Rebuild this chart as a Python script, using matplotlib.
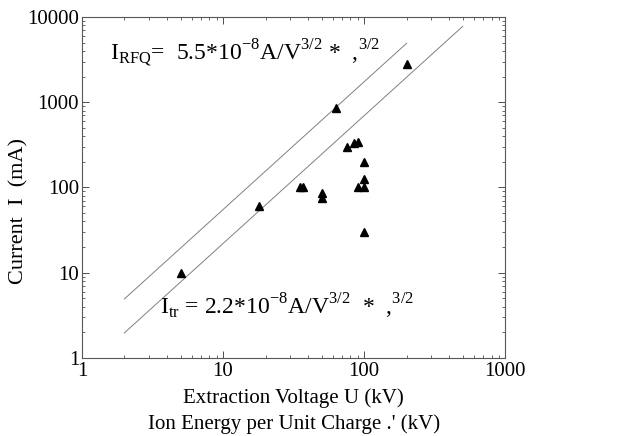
import numpy as np
import matplotlib
matplotlib.use("Agg")
import matplotlib.pyplot as plt
from matplotlib.ticker import LogLocator, FixedLocator, FixedFormatter, NullFormatter

plt.rcParams['font.family'] = ['Liberation Serif', 'DejaVu Serif']
plt.rcParams['mathtext.fontset'] = 'custom'
plt.rcParams['mathtext.rm'] = 'Liberation Serif'

# measured points: extraction voltage (kV) vs current (mA)
volt_kv = [5, 18, 35, 37, 50, 50, 63, 75, 85, 90, 90, 100, 100, 100, 100, 200]
curr_ma = [10, 60, 100, 100, 85, 75, 850, 300, 330, 340, 100, 100, 125, 200, 30, 2800]

# limit lines: I = k * U^(3/2)
k_rfq = 5.5e-8
k_tr = 2.2e-8
rfq_range = [2, 200]
tr_range = [2, 500]

x_ticks = [1, 10, 100, 1000]
y_ticks = [1, 10, 100, 1000, 10000]

fig = plt.figure(figsize=(6.3, 4.36), dpi=100)
ax = fig.add_axes([0.130, 0.179, 0.672, 0.782])

u = np.geomspace(rfq_range[0], rfq_range[1], 100)
ax.plot(u, k_rfq * (u * 1e3) ** 1.5 * 1e3, color='0.5', lw=0.7)
u = np.geomspace(tr_range[0], tr_range[1], 100)
ax.plot(u, k_tr * (u * 1e3) ** 1.5 * 1e3, color='0.5', lw=0.7)

ax.plot(volt_kv, curr_ma, ls='none', marker='^', color='black', markersize=6)

ax.set_xscale('log')
ax.set_yscale('log')
ax.set_xlim(1, 1000)
ax.set_ylim(1, 10000)
ax.xaxis.set_major_locator(FixedLocator(x_ticks))
ax.xaxis.set_major_formatter(FixedFormatter([str(t) for t in x_ticks]))
ax.yaxis.set_major_locator(FixedLocator(y_ticks))
ax.yaxis.set_major_formatter(FixedFormatter([str(t) for t in y_ticks]))
ax.xaxis.set_minor_locator(LogLocator(base=10, subs=np.arange(2, 10)))
ax.yaxis.set_minor_locator(LogLocator(base=10, subs=np.arange(2, 10)))
ax.xaxis.set_minor_formatter(NullFormatter())
ax.yaxis.set_minor_formatter(NullFormatter())
ax.tick_params(which='both', direction='in', top=True, right=True,
               labelsize=15, color='0.3')
ax.tick_params(axis='y', pad=2)
ax.tick_params(axis='x', pad=3)
ax.tick_params(which='major', length=5, width=0.7)
ax.tick_params(which='minor', length=2.5, width=0.6)
for s in ax.spines.values():
    s.set_color('0.35')
    s.set_linewidth(0.8)
    s.set_linestyle((0, (2, 0.6)))

ax.set_ylabel('Current  I  (mA)', fontsize=16)
ax.yaxis.set_label_coords(-0.125, 0.43)
ax.set_xlabel("Extraction Voltage U (kV)\nIon Energy per Unit Charge .' (kV)",
              fontsize=15, labelpad=5, linespacing=1.45)

ax.text(0.066, 0.875, r'I$_{\mathrm{RFQ}}$=  5.5*10$^{-8}$A/V$^{3/2}$ *  ,$^{3/2}$',
        transform=ax.transAxes, fontsize=17, va='baseline')
ax.text(0.184, 0.128, r'I$_{\mathrm{tr}}$ = 2.2*10$^{-8}$A/V$^{3/2}$  *  ,$^{3/2}$',
        transform=ax.transAxes, fontsize=17, va='baseline')

fig.savefig('out.png', dpi=100)
